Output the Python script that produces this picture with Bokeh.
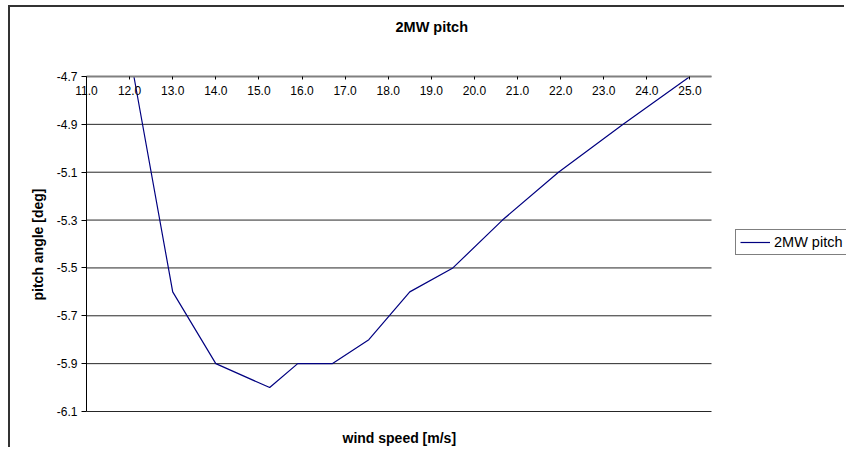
from bokeh.plotting import figure
from bokeh.models import (Range1d, LinearAxis, FixedTicker, NumeralTickFormatter,
                          Legend, LegendItem, Title)
from bokeh.embed import file_html
from bokeh.resources import INLINE

# ---- data ----
wind_speed = [12.1, 13.0, 14.0, 15.25, 15.9, 16.7, 17.55, 18.5, 19.5, 20.65, 21.95, 23.45, 25.0]
pitch_angle = [-4.7, -5.6, -5.9, -6.0, -5.9, -5.9, -5.8, -5.6, -5.5, -5.3, -5.1, -4.9, -4.7]
x_ticks = [11.0, 12.0, 13.0, 14.0, 15.0, 16.0, 17.0, 18.0, 19.0, 20.0, 21.0, 22.0, 23.0, 24.0, 25.0]
y_ticks = [-4.7, -4.9, -5.1, -5.3, -5.5, -5.7, -5.9, -6.1]
x_min, x_max = 11.0, 25.5
y_min, y_max = -6.1, -4.7
series_name = "2MW pitch"
chart_title = "2MW pitch"
x_title = "wind speed [m/s]"
y_title = "pitch angle [deg]"

FONT = "Liberation Sans"

W, H = 836, 442
LEFT, TOP = 76, 69
FRAME_W = W - LEFT
PX_PER_X = 625 / (x_max - x_min)
PX_PER_Y = 335 / (y_max - y_min)
x_end = x_min + FRAME_W / PX_PER_X
y_start = y_min - 1.0 / PX_PER_Y

p = figure(width=W, height=H, output_backend="svg", toolbar_location=None,
           x_range=Range1d(x_min, x_end), y_range=Range1d(y_start, y_max),
           x_axis_location=None, y_axis_location=None,
           min_border_left=LEFT, min_border_right=0, min_border_top=TOP,
           min_border_bottom=H - TOP - 336)
p.title = None
p.outline_line_color = None
p.background_fill_color = "white"
p.border_fill_color = "white"
p.styles = {"margin-left": "8px", "margin-top": "5px",
            "border-left": "2px solid #333333", "border-top": "2px solid #333333"}


def spacer(size):
    a = LinearAxis(ticker=FixedTicker(ticks=[]), axis_label=" ")
    a.axis_line_color = None
    a.major_tick_line_color = None
    a.minor_tick_line_color = None
    a.major_tick_out = 0
    a.major_tick_in = 0
    a.major_label_text_font_size = "0px"
    a.axis_label_standoff = size - 1
    a.axis_label_text_font_size = "1px"
    a.axis_label_text_color = "white"
    return a


# x axis at the top, labels below the axis line
xa = LinearAxis(ticker=FixedTicker(ticks=x_ticks), formatter=NumeralTickFormatter(format="0.0"),
                bounds=(x_min, x_max))
xa.axis_line_color = "#808080"
xa.axis_line_width = 2
xa.major_tick_in = 3
xa.major_tick_out = 0
xa.major_tick_line_color = "black"
xa.minor_tick_line_color = None
xa.major_label_standoff = -18
xa.major_label_text_font = FONT
xa.major_label_text_font_size = "12px"
xa.major_label_text_color = "black"
p.add_layout(xa, "above")
p.add_layout(spacer(30), "above")

t = Title(text=chart_title, align="left", offset=309, standoff=17, text_font=FONT,
          text_font_size="14.5px", text_font_style="bold", text_color="black")
p.add_layout(t, "above")

# x-axis title below the plot area
p.add_layout(spacer(11), "below")
tb = Title(text=x_title, align="left", offset=256, standoff=3, text_font=FONT,
           text_font_size="14px", text_font_style="bold", text_color="black")
p.add_layout(tb, "below")

# y axis
ya = LinearAxis(ticker=FixedTicker(ticks=y_ticks), formatter=NumeralTickFormatter(format="0.0"),
                axis_label=y_title, bounds=(y_min, y_max))
ya.axis_line_color = "black"
ya.major_tick_out = 5
ya.major_tick_in = 0
ya.major_tick_line_color = "black"
ya.minor_tick_line_color = None
ya.major_label_standoff = 4
ya.major_label_text_font = FONT
ya.major_label_text_font_size = "12px"
ya.major_label_text_color = "black"
ya.axis_label_standoff = 8
ya.axis_label_text_font = FONT
ya.axis_label_text_font_size = "14px"
ya.axis_label_text_font_style = "bold"
ya.axis_label_text_color = "black"
p.add_layout(ya, "left")

# horizontal gridlines limited to the plot area
p.xgrid.visible = False
p.ygrid.visible = False
n = len(y_ticks)
p.segment(x0=[x_min] * n, y0=y_ticks, x1=[x_max] * n, y1=y_ticks,
          line_color="black", line_width=1, line_alpha=0.85)

r = p.line(wind_speed, pitch_angle, line_color="#000080", line_width=1.2)

legend = Legend(items=[LegendItem(label=series_name, renderers=[r])],
                location=(649, 157), orientation="vertical")
legend.border_line_color = "black"
legend.border_line_width = 1
legend.background_fill_color = "white"
legend.padding = 4
legend.margin = 0
legend.glyph_width = 30
legend.glyph_height = 12
legend.label_height = 12
legend.label_width = 80
legend.label_standoff = 4
legend.label_text_font = FONT
legend.label_text_font_size = "14.5px"
legend.label_text_color = "black"
p.add_layout(legend, "center")

open("out.html", "w").write(file_html(p, INLINE))
